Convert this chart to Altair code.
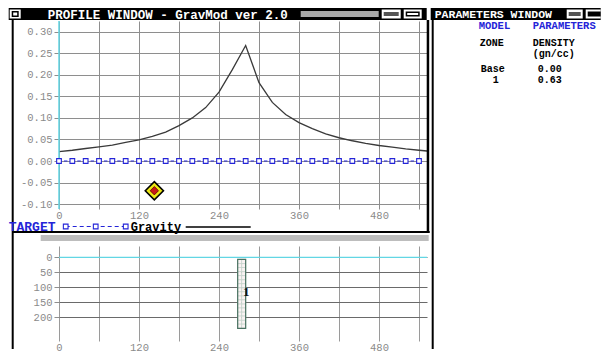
import altair as alt
import pandas as pd

# ---------------- data ----------------
grav_x = [0, 20, 40, 60, 80, 100, 120, 140, 160, 180, 200, 220, 240, 260, 280,
          300, 320, 340, 360, 380, 400, 420, 440, 460, 480, 500, 520, 540, 560]
gravity = [0.022, 0.025, 0.029, 0.033, 0.037, 0.043, 0.049, 0.057, 0.067, 0.082,
           0.100, 0.124, 0.160, 0.212, 0.268, 0.182, 0.136, 0.108, 0.089, 0.075,
           0.063, 0.054, 0.047, 0.041, 0.036, 0.032, 0.028, 0.025, 0.022]
target_x = [0, 20, 40, 60, 80, 100, 120, 140, 160, 180, 200, 220, 240, 260,
            280, 300, 320, 340, 360, 380, 400, 420, 440, 460, 480, 500, 520, 540]
target_g = [0.0, 0.0, 0.0, 0.0, 0.0, 0.0, 0.0, 0.0, 0.0, 0.0, 0.0, 0.0, 0.0, 0.0,
            0.0, 0.0, 0.0, 0.0, 0.0, 0.0, 0.0, 0.0, 0.0, 0.0, 0.0, 0.0, 0.0, 0.0]
obs_x = [143]
obs_g = [-0.069]
x_grid = [0, 60, 120, 180, 240, 300, 360, 420, 480, 540]
g_ticks = [-0.10, -0.05, 0.0, 0.05, 0.10, 0.15, 0.20, 0.25, 0.30]
depth_ticks = [0, 50, 100, 150, 200]
# zone 1 body, drawn as cells of the model
cell_x0 = [268, 274]
cell_x1 = [274, 280]
cell_depths = [7, 21, 34, 48, 61, 75, 88, 102, 115, 129, 142, 156, 169, 183, 196, 210, 223, 237]
zone_label = ["1"]
zone_label_x = [281]
zone_label_depth = [115]
param_zones = ["Base", "1"]
param_density = ["0.00", "0.63"]

# ---------------- layout / styles ----------------
OX, OY = 58.3, 21.0          # page position of the profile plot area
W = 368
H1, H2 = 188, 95
SPACING = 37
CYAN = "#62d6e4"
BLUE = "#2424d8"
GRID = "#8e8e8e"
LBL = "#8a8a8a"
FONT = "Liberation Mono"

def px(p):
    return p - OX

def py(p):
    return p - OY

xscale = alt.Scale(domain=[0, 552], nice=False, zero=False)
x_label_expr = "datum.value % 120 == 0 ? datum.label : ''"

def x_axis(grid_color):
    return alt.Axis(values=x_grid, tickCount=len(x_grid), labelExpr=x_label_expr, grid=True,
                    gridColor=grid_color, gridWidth=1, ticks=False, tickSize=0, domain=False,
                    labelFlush=False, labelOverlap=False, labelFont=FONT, labelFontSize=10.5,
                    labelColor=LBL, labelBaseline="middle", labelPadding=6, title=None)

# ---------- top (profile) panel ----------
gdf = pd.DataFrame({"x": grav_x, "g": gravity})
tdf = pd.DataFrame({"x": target_x, "g": target_g})
odf = pd.DataFrame({"x": obs_x, "g": obs_g})

yscale = alt.Scale(domain=[-0.1114, 0.325], nice=False, zero=False)
y_axis = alt.Axis(values=g_ticks, tickCount=len(g_ticks), grid=True, gridColor=GRID, gridWidth=1,
                  ticks=True, tickSize=5, tickColor=GRID, domain=False, labelFont=FONT,
                  labelFontSize=10.5, labelColor=LBL, labelPadding=2, labelOverlap=False,
                  labelExpr="(datum.value < 0 ? '-' : '') + format(abs(datum.value), '.2f')",
                  title=None)

grav_line = alt.Chart(gdf).mark_line(color="#3a3a3a", strokeWidth=1.3, clip=True).encode(
    x=alt.X("x:Q", scale=xscale, axis=x_axis(GRID)),
    y=alt.Y("g:Q", scale=yscale, axis=y_axis),
)
cyan_v = alt.Chart(pd.DataFrame({"x": [0]})).mark_rule(color=CYAN, strokeWidth=1.5).encode(
    x=alt.X("x:Q", scale=xscale))
target_line = alt.Chart(tdf).mark_line(color=BLUE, strokeWidth=1, strokeDash=[3.5, 9.833],
                                       strokeDashOffset=8.4).encode(
    x=alt.X("x:Q", scale=xscale), y=alt.Y("g:Q", scale=yscale))
target_pts = alt.Chart(tdf).mark_point(shape="square", size=22, filled=True, fill="white",
                                       stroke=BLUE, strokeWidth=1.1, opacity=1).encode(
    x=alt.X("x:Q", scale=xscale), y=alt.Y("g:Q", scale=yscale))
obs_outer = alt.Chart(odf).mark_point(shape="diamond", size=330, filled=True, fill="#ece814",
                                      stroke="black", strokeWidth=1.6, opacity=1).encode(
    x=alt.X("x:Q", scale=xscale), y=alt.Y("g:Q", scale=yscale))
obs_inner = alt.Chart(odf).mark_point(shape="diamond", size=70, filled=True, fill="#c81818",
                                      stroke="#5a0000", strokeWidth=0.8, opacity=1).encode(
    x=alt.X("x:Q", scale=xscale), y=alt.Y("g:Q", scale=yscale))

# window chrome (page coordinates converted to plot coordinates)
rects = [
    (8, 426, 8, 20, "black"),          # profile title bar
    (9, 20, 9.5, 18.5, "white"), (11, 18, 11, 17, "black"), (12.5, 16.5, 12.5, 15.5, "white"),
    (300, 378, 11, 17, "#a8a8a8"),
    (381, 400, 9.5, 18.5, "white"), (383, 398, 12, 16, "#555555"),
    (403, 421, 9.5, 18.5, "white"), (405, 419, 11.5, 16.5, "black"), (406.5, 417.5, 13, 15, "white"),
    (430, 600, 8, 20, "black"),        # parameters title bar
    (566, 582, 9.5, 18.5, "white"), (568, 580, 12, 16, "#555555"),
    (585, 600, 9.5, 18.5, "white"), (587, 600, 11.5, 16.5, "black"),
    (11, 13, 20, 349, "black"),         # left frame
    (426, 428.5, 20, 233, "black"),     # profile right border
    (431, 433, 20, 349, "black"),       # parameters left border
    (12, 429, 231, 233, "black"),       # separator
    (40, 428, 235, 241, "#bdbdbd"),     # splitter bar
]
rdf = pd.DataFrame(rects, columns=["x", "x2", "y", "y2", "fill"])
for c in ["x", "x2"]:
    rdf[c] = rdf[c].map(px)
for c in ["y", "y2"]:
    rdf[c] = rdf[c].map(py)
chrome = alt.Chart(rdf).mark_rect().encode(
    x=alt.X("x:Q", scale=None), x2="x2:Q",
    y=alt.Y("y:Q", scale=None), y2="y2:Q",
    color=alt.Color("fill:N", scale=None))

texts = [
    (47, 14.5, "PROFILE WINDOW - GravMod ver 2.0", "white", 12.5),
    (434, 14.5, "PARAMETERS WINDOW", "white", 11.5),
    (478, 25.5, "MODEL", BLUE, 10.5),
    (532, 25.5, "PARAMETERS", BLUE, 10.5),
    (479, 43, "ZONE", "black", 10),
    (532, 43, "DENSITY", "black", 10),
    (532, 54, "(gn/cc)", "black", 10),
    (480, 69, param_zones[0], "black", 10),
    (492, 80, param_zones[1], "black", 10),
    (537, 69, param_density[0], "black", 10),
    (537, 80, param_density[1], "black", 10),
    (8, 226.5, "TARGET", BLUE, 13),
    (130, 226.5, "Gravity", "black", 12),
]
txdf = pd.DataFrame(texts, columns=["x", "y", "t", "c", "s"])
txdf["x"] = txdf["x"].map(px)
txdf["y"] = txdf["y"].map(py)
chrome_text = alt.Chart(txdf).mark_text(align="left", baseline="middle", font=FONT,
                                        fontWeight="bold").encode(
    x=alt.X("x:Q", scale=None), y=alt.Y("y:Q", scale=None), text="t:N",
    color=alt.Color("c:N", scale=None), size=alt.Size("s:Q", scale=None))

# legend samples
leg_line = pd.DataFrame({"x": [px(65), px(185)], "x2": [px(125), px(250)],
                         "y": [py(226.5), py(227)], "c": [BLUE, "black"],
                         "d": ["dash", "solid"]})
leg_dash = alt.Chart(leg_line[leg_line.d == "dash"]).mark_rule(strokeDash=[4, 3], strokeWidth=1).encode(
    x=alt.X("x:Q", scale=None), x2="x2:Q", y=alt.Y("y:Q", scale=None),
    color=alt.Color("c:N", scale=None))
leg_solid = alt.Chart(leg_line[leg_line.d == "solid"]).mark_rule(strokeWidth=1.3).encode(
    x=alt.X("x:Q", scale=None), x2="x2:Q", y=alt.Y("y:Q", scale=None),
    color=alt.Color("c:N", scale=None))
leg_pts = alt.Chart(pd.DataFrame({"x": [px(65), px(95), px(125)],
                                  "y": [py(226.5)] * 3})).mark_point(
    shape="square", size=22, filled=True, fill="white", stroke=BLUE, strokeWidth=1.1, opacity=1
).encode(x=alt.X("x:Q", scale=None), y=alt.Y("y:Q", scale=None))

top = alt.layer(grav_line, cyan_v, target_line, target_pts, obs_outer, obs_inner,
                chrome, chrome_text, leg_dash, leg_solid, leg_pts).properties(width=W, height=H1)

# ---------- bottom (section) panel ----------
dscale = alt.Scale(domain=[-37.7, 279], reverse=True, nice=False, zero=False)
d_axis = alt.Axis(values=depth_ticks, tickCount=len(depth_ticks), grid=True, gridColor="#6a6a6a",
                  gridWidth=1, ticks=True, tickSize=5, tickColor=GRID, domain=False,
                  labelFont=FONT, labelFontSize=10.5, labelColor=LBL, labelPadding=2,
                  labelOverlap=False, title=None)

cells = []
for i in range(len(cell_depths) - 1):
    for a, b in zip(cell_x0, cell_x1):
        cells.append({"x": a, "x2": b, "d": cell_depths[i], "d2": cell_depths[i + 1]})
cdf = pd.DataFrame(cells)

base_rule = alt.Chart(pd.DataFrame({"d": [0]})).mark_rule(color=CYAN, strokeWidth=1.2).encode(
    y=alt.Y("d:Q", scale=dscale, axis=d_axis))
xaxis_holder = alt.Chart(pd.DataFrame({"x": [0], "d": [0]})).mark_point(opacity=0).encode(
    x=alt.X("x:Q", scale=xscale, axis=x_axis("#9a9a9a")),
    y=alt.Y("d:Q", scale=dscale))
body = alt.Chart(cdf).mark_rect(fill="#faf3f3", stroke="#b4c8be", strokeWidth=0.5).encode(
    x=alt.X("x:Q", scale=xscale), x2="x2:Q",
    y=alt.Y("d:Q", scale=dscale), y2="d2:Q")
body_outline = alt.Chart(pd.DataFrame({"x": [cell_x0[0]], "x2": [cell_x1[-1]],
                                       "d": [cell_depths[0]], "d2": [cell_depths[-1]]})).mark_rect(
    fillOpacity=0, stroke="#4a7262", strokeWidth=1.2).encode(
    x=alt.X("x:Q", scale=xscale), x2="x2:Q",
    y=alt.Y("d:Q", scale=dscale), y2="d2:Q")
zlabel = alt.Chart(pd.DataFrame({"x": zone_label_x, "d": zone_label_depth, "t": zone_label})).mark_text(
    font="Liberation Serif", fontWeight="bold", fontSize=13, color="#111111").encode(
    x=alt.X("x:Q", scale=xscale), y=alt.Y("d:Q", scale=dscale), text="t:N")

bottom = alt.layer(xaxis_holder, base_rule, body, body_outline, zlabel).properties(width=W, height=H2)

chart = alt.vconcat(top, bottom, spacing=SPACING, bounds="flush").properties(
    padding=0, background="white"
).configure_view(strokeWidth=0)

chart.save("out.html", embed_options={"renderer": "svg", "actions": False})
